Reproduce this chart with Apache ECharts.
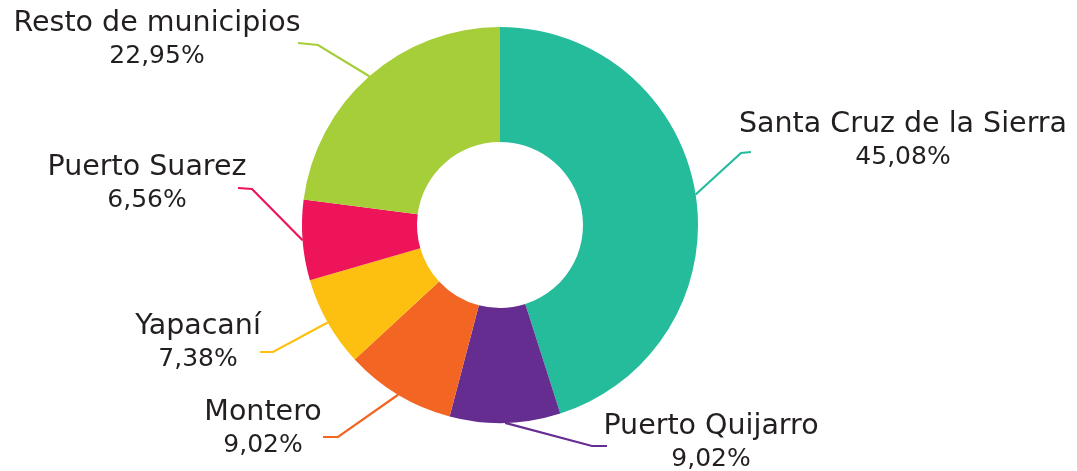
<!DOCTYPE html>
<html>
<head>
<meta charset="utf-8">
<script src="https://cdn.jsdelivr.net/npm/echarts@6/dist/echarts.min.js"></script>
<style>
  html, body { margin: 0; padding: 0; background: #ffffff; }
  #chart { width: 1077px; height: 471px; }
</style>
</head>
<body>
<div id="chart"></div>
<script>
// Share by municipality (%)
const municipios = ['Santa Cruz de la Sierra', 'Puerto Quijarro', 'Montero', 'Yapacaní', 'Puerto Suarez', 'Resto de municipios'];
const porcentajes = [45.08, 9.02, 9.02, 7.38, 6.56, 22.95];
const colores = ['#25bc9c', '#662d91', '#f26522', '#fdc010', '#ed1459', '#a6ce39'];

// Label placement: block centre, and end of the leader line (elbow sits a few px toward the ring)
const labelPlace = {
  'Santa Cruz de la Sierra': { c: [903, 141], end: [751, 152], elbow: [741, 153] },
  'Puerto Quijarro':         { c: [711, 443], end: [607, 446], elbow: [592, 446] },
  'Montero':                 { c: [263, 429], end: [323, 437], elbow: [338, 437] },
  'Yapacaní':                { c: [198, 343], end: [260, 352], elbow: [273, 352] },
  'Puerto Suarez':           { c: [147, 184], end: [238, 188], elbow: [252, 189] },
  'Resto de municipios':     { c: [157, 40],  end: [298, 43],  elbow: [318, 45] }
};

const fmt = v => v.toFixed(2).replace('.', ',') + '%';

const chart = echarts.init(document.getElementById('chart'), null, { renderer: 'canvas' });

chart.setOption({
  animation: false,
  series: [{
    type: 'pie',
    center: [500, 225],
    radius: [83, 198],
    startAngle: 90,
    clockwise: true,
    avoidLabelOverlap: false,
    data: municipios.map((n, i) => ({
      name: n,
      value: porcentajes[i],
      itemStyle: { color: colores[i] }
    })),
    label: {
      show: true,
      position: 'outside',
      formatter: p => '{n|' + p.name + '}\n{p|' + fmt(p.value) + '}',
      rich: {
        n: { fontFamily: 'DejaVu Sans', fontSize: 28.5, color: '#231f20', lineHeight: 32, align: 'center' },
        p: { fontFamily: 'DejaVu Sans', fontSize: 25, color: '#231f20', lineHeight: 32, align: 'center' }
      }
    },
    labelLine: {
      show: true,
      length: 30,
      length2: 10,
      lineStyle: { width: 2.2 }
    },
    emphasis: { disabled: true },
    labelLayout: function (params) {
      const name = municipios[params.dataIndex];
      const pl = labelPlace[name];
      const start = params.labelLinePoints ? params.labelLinePoints[0] : pl.elbow;
      return {
        x: pl.c[0],
        y: pl.c[1],
        align: 'center',
        verticalAlign: 'middle',
        labelLinePoints: [start, pl.elbow, pl.end]
      };
    }
  }]
});
</script>
</body>
</html>
